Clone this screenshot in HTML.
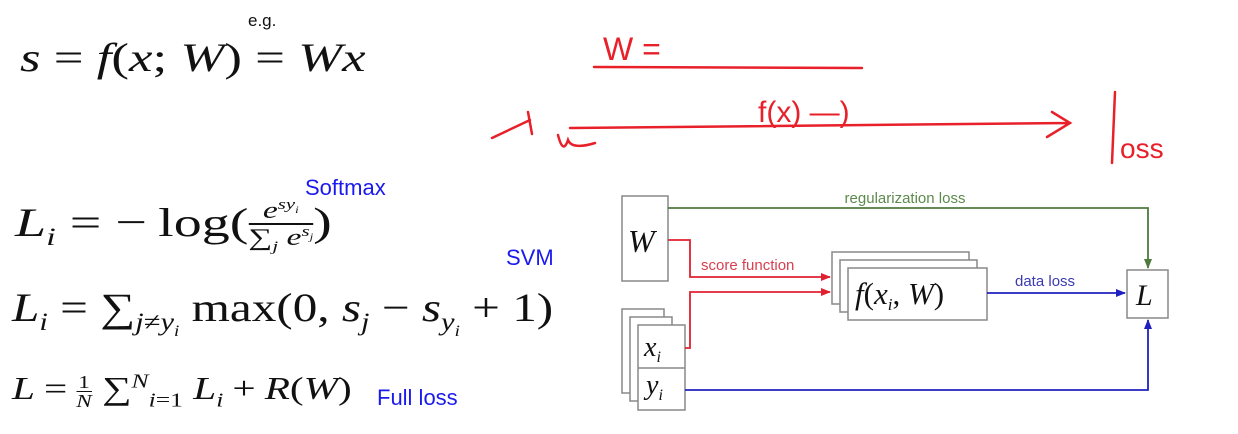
<!DOCTYPE html>
<html><head><meta charset="utf-8"><style>
html,body{margin:0;padding:0;background:#fff;}
body{width:1238px;height:434px;position:relative;overflow:hidden;font-family:"Liberation Serif",serif;}
.a{position:absolute;white-space:nowrap;line-height:1;}
.m{font-family:"Liberation Serif",serif;color:#111;transform-origin:0 50%;}
.i{font-style:italic;}
.b{font-family:"Liberation Sans",sans-serif;color:#1a1aee;}
sub,sup{font-size:62%;}
.o{margin:0 10px;}
.frac{display:inline-block;vertical-align:middle;text-align:center;}
.frac span{display:block;}
</style></head><body>

<div class="a m" style="left:20px;top:38px;font-size:40px;transform:scaleX(1.32);"><i>s</i><span class="o">=</span><i>f</i>(<i>x</i>; <i>W</i>)<span class="o">=</span><i>Wx</i></div>
<div class="a" style="left:248px;top:12px;font-size:17px;font-family:'Liberation Sans',sans-serif;color:#111;">e.g.</div>

<div class="a b" style="left:305px;top:177px;font-size:22px;">Softmax</div>
<div class="a m" style="left:15px;top:198px;font-size:40px;transform:scaleX(1.4);"><i>L<sub>i</sub></i><span class="o">=</span>−<span style="margin-left:8px">log(</span><span class="frac" style="font-size:24px;"><span style="border-bottom:2px solid #111;padding:0 4px;"><i>e<sup>sy<sub>i</sub></sup></i></span><span>∑<sub><i>j</i></sub> <i>e<sup>s<sub>j</sub></sup></i></span></span>)</div>

<div class="a b" style="left:506px;top:247px;font-size:22px;">SVM</div>
<div class="a m" style="left:12px;top:288px;font-size:40px;transform:scaleX(1.23);"><i>L<sub>i</sub></i><span class="o">=</span>∑<sub><i>j</i>≠<i>y<sub>i</sub></i></sub> max(0, <i>s<sub>j</sub></i><span class="o">−</span><i>s<sub>y<sub>i</sub></sub></i><span class="o">+</span>1)</div>

<div class="a m" style="left:12px;top:372px;font-size:32px;transform:scaleX(1.29);"><i>L</i><span class="o" style="margin:0 7px">=</span><span class="frac" style="font-size:18px;"><span style="border-bottom:1px solid #111;">1</span><span><i>N</i></span></span> ∑<sup><i>N</i></sup><sub><i>i</i>=1</sub> <i>L<sub>i</sub></i><span class="o" style="margin:0 7px">+</span><i>R</i>(<i>W</i>)</div>
<div class="a b" style="left:377px;top:387px;font-size:22px;">Full loss</div>

<svg class="a" style="left:0;top:0" width="1238" height="434">
 <defs>
  <marker id="ag" markerUnits="userSpaceOnUse" markerWidth="10" markerHeight="10" refX="9" refY="5" orient="auto"><path d="M0,1 L10,5 L0,9z" fill="#4e7a3e"/></marker>
  <marker id="ar" markerUnits="userSpaceOnUse" markerWidth="10" markerHeight="10" refX="9" refY="5" orient="auto"><path d="M0,1 L10,5 L0,9z" fill="#e02030"/></marker>
  <marker id="ab" markerUnits="userSpaceOnUse" markerWidth="10" markerHeight="10" refX="9" refY="5" orient="auto"><path d="M0,1 L10,5 L0,9z" fill="#2020c0"/></marker>
 </defs>
 <g stroke="#e8202a" stroke-width="2.5" fill="none" stroke-linecap="round">
  <path d="M594,67 L862,68"/>
  <path d="M570,128 L1070,123 M1052,112 L1070,123 L1047,137"/>
  <path d="M492,138 L530,120 M528,112 L532,134"/>
  <path d="M558,135 Q563,155 568,140 Q572,150 595,143"/>
  <path d="M1115,92 L1112,163"/>
 </g>
 <g fill="#e8202a" font-family="Liberation Sans,sans-serif">
  <text x="603" y="60" font-size="32">W =</text>
  <text x="758" y="122" font-size="30">f(x) —)</text>
  <text x="1120" y="158" font-size="28">oss</text>
 </g>

 <g fill="#fff" stroke="#888" stroke-width="1.5">
  <rect x="622" y="196" width="46" height="85"/>
  <rect x="622" y="309" width="42" height="84"/>
  <rect x="630" y="317" width="42" height="84"/>
  <rect x="638" y="325" width="47" height="85"/>
  <line x1="638" y1="368" x2="685" y2="368"/>
  <rect x="832" y="252" width="137" height="52"/>
  <rect x="840" y="260" width="137" height="52"/>
  <rect x="848" y="268" width="139" height="52"/>
  <rect x="1127" y="270" width="41" height="48"/>
 </g>
 <g font-family="Liberation Serif,serif" font-style="italic" fill="#111">
  <text x="628" y="252" font-size="32">W</text>
  <text x="644" y="356" font-size="28">x<tspan font-size="16" dy="6">i</tspan></text>
  <text x="646" y="394" font-size="28">y<tspan font-size="16" dy="6">i</tspan></text>
  <text x="855" y="304" font-size="31">f<tspan font-style="normal">(</tspan>x<tspan font-size="17" dy="6">i</tspan><tspan dy="-6" font-style="normal">, </tspan>W<tspan font-style="normal">)</tspan></text>
  <text x="1136" y="305" font-size="30">L</text>
 </g>

 <path d="M668,208 L1148,208 L1148,268" stroke="#4e7a3e" stroke-width="1.8" fill="none" marker-end="url(#ag)"/>
 <text x="905" y="203" text-anchor="middle" font-family="Liberation Sans,sans-serif" font-size="15" fill="#5c8a4c">regularization loss</text>
 <path d="M668,240 L690,240 L690,277 L830,277" stroke="#e02030" stroke-width="1.8" fill="none" marker-end="url(#ar)"/>
 <path d="M685,348 L690,348 L690,292 L830,292" stroke="#e02030" stroke-width="1.8" fill="none" marker-end="url(#ar)"/>
 <text x="701" y="270" font-family="Liberation Sans,sans-serif" font-size="15" fill="#d84050">score function</text>
 <path d="M987,293 L1125,293" stroke="#2020c0" stroke-width="1.8" fill="none" marker-end="url(#ab)"/>
 <text x="1015" y="286" font-family="Liberation Sans,sans-serif" font-size="15" fill="#3a3ab0">data loss</text>
 <path d="M685,390 L1148,390 L1148,320" stroke="#2020c0" stroke-width="1.8" fill="none" marker-end="url(#ab)"/>
</svg>
</body></html>
